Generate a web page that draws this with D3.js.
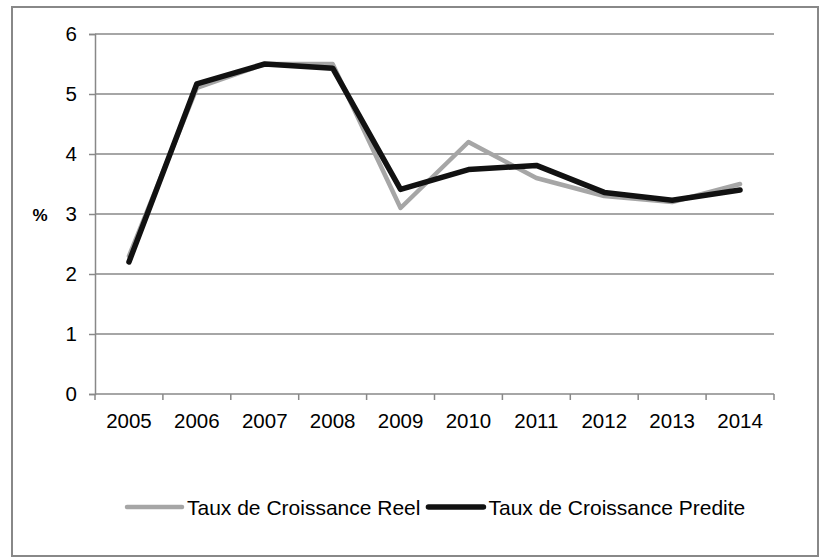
<!DOCTYPE html>
<html>
<head>
<meta charset="utf-8">
<script src="https://cdn.jsdelivr.net/npm/d3@7"></script>
<style>
  body { margin: 0; background: #fff; }
  text { font-family: "Liberation Sans", Arial, sans-serif; fill: #000; }
</style>
</head>
<body>
<div id="chart-area"></div>
<script>
// Data
const years = ["2005", "2006", "2007", "2008", "2009", "2010", "2011", "2012", "2013", "2014"];
const reel = [2.3, 5.1, 5.5, 5.5, 3.1, 4.2, 3.6, 3.3, 3.2, 3.5];
const predite = [2.2, 5.17, 5.5, 5.43, 3.41, 3.74, 3.81, 3.36, 3.23, 3.4];
const yTicks = [0, 1, 2, 3, 4, 5, 6];
const seriesNames = ["Taux de Croissance Reel", "Taux de Croissance Predite"];

const W = 820, H = 558;
const plot = { left: 95, right: 774, top: 34, bottom: 394 };

const svg = d3.select("#chart-area")
    .append("svg")
    .attr("width", W)
    .attr("height", H);

// outer frame
svg.append("rect")
    .attr("x", 12).attr("y", 7)
    .attr("width", 806).attr("height", 549)
    .attr("fill", "#fff")
    .attr("stroke", "#888")
    .attr("stroke-width", 2);

// scales
const xScale = d3.scaleBand().domain(years).range([plot.left, plot.right]).padding(0);
const yScale = d3.scaleLinear().domain([0, 6]).range([plot.bottom, plot.top]);

// gridlines
svg.append("g")
    .selectAll("line")
    .data(yTicks.filter(d => d > 0))
    .enter()
    .append("line")
    .attr("x1", plot.left).attr("x2", plot.right)
    .attr("y1", d => yScale(d)).attr("y2", d => yScale(d))
    .attr("stroke", "#888")
    .attr("stroke-width", 1.5);

// y axis
const yAxis = d3.axisLeft(yScale).tickValues(yTicks).tickFormat(d3.format("d")).tickSize(6).tickPadding(12);
const gy = svg.append("g")
    .attr("transform", "translate(" + plot.left + ",0)")
    .call(yAxis);
gy.select(".domain").attr("stroke", "#888").attr("stroke-width", 1.5);
gy.selectAll(".tick line").attr("stroke", "#888").attr("stroke-width", 1.5);
gy.selectAll(".tick text").attr("font-size", "20.5px").attr("font-family", "Liberation Sans, Arial, sans-serif").attr("fill", "#000");

// x axis - ticks between categories
const gx = svg.append("g")
    .attr("transform", "translate(0," + plot.bottom + ")");
gx.append("line")
    .attr("x1", plot.left).attr("x2", plot.right)
    .attr("stroke", "#888").attr("stroke-width", 1.5);
const bounds = years.map(d => xScale(d)).concat([xScale(years[years.length - 1]) + xScale.bandwidth()]);
gx.selectAll(".xtick")
    .data(bounds)
    .enter()
    .append("line")
    .attr("x1", d => d).attr("x2", d => d)
    .attr("y1", 0).attr("y2", 6)
    .attr("stroke", "#888").attr("stroke-width", 1.5);
gx.selectAll(".xlabel")
    .data(years)
    .enter()
    .append("text")
    .attr("x", d => xScale(d) + xScale.bandwidth() / 2)
    .attr("y", 34)
    .attr("text-anchor", "middle")
    .attr("font-size", "20.5px")
    .text(d => d);

// y axis title
svg.append("text")
    .attr("x", 40)
    .attr("y", yScale(3) + 7)
    .attr("text-anchor", "middle")
    .attr("font-size", "17px")
    .attr("font-weight", "bold")
    .text("%");

// lines
const line = d3.line()
    .x((d, i) => xScale(years[i]) + xScale.bandwidth() / 2)
    .y(d => yScale(d));

svg.append("path")
    .datum(reel)
    .attr("fill", "none")
    .attr("stroke", "#a6a6a6")
    .attr("stroke-width", 4.5)
    .attr("stroke-linejoin", "round")
    .attr("stroke-linecap", "round")
    .attr("d", line);

svg.append("path")
    .datum(predite)
    .attr("fill", "none")
    .attr("stroke", "#111")
    .attr("stroke-width", 5.5)
    .attr("stroke-linejoin", "round")
    .attr("stroke-linecap", "round")
    .attr("d", line);

// legend
const legendColors = ["#a6a6a6", "#111"];
const legendWidths = [4.5, 5.5];
const legend = svg.append("g").attr("class", "legend");
let lx = 127;
seriesNames.forEach((name, i) => {
    legend.append("line")
        .attr("x1", lx).attr("x2", lx + 55)
        .attr("y1", 507).attr("y2", 507)
        .attr("stroke", legendColors[i])
        .attr("stroke-width", legendWidths[i])
        .attr("stroke-linecap", "round");
    const t = legend.append("text")
        .attr("x", lx + 60)
        .attr("y", 515)
        .attr("font-size", "21px")
        .text(name);
    lx = lx + 60 + t.node().getComputedTextLength() + 8;
});
</script>
</body>
</html>
